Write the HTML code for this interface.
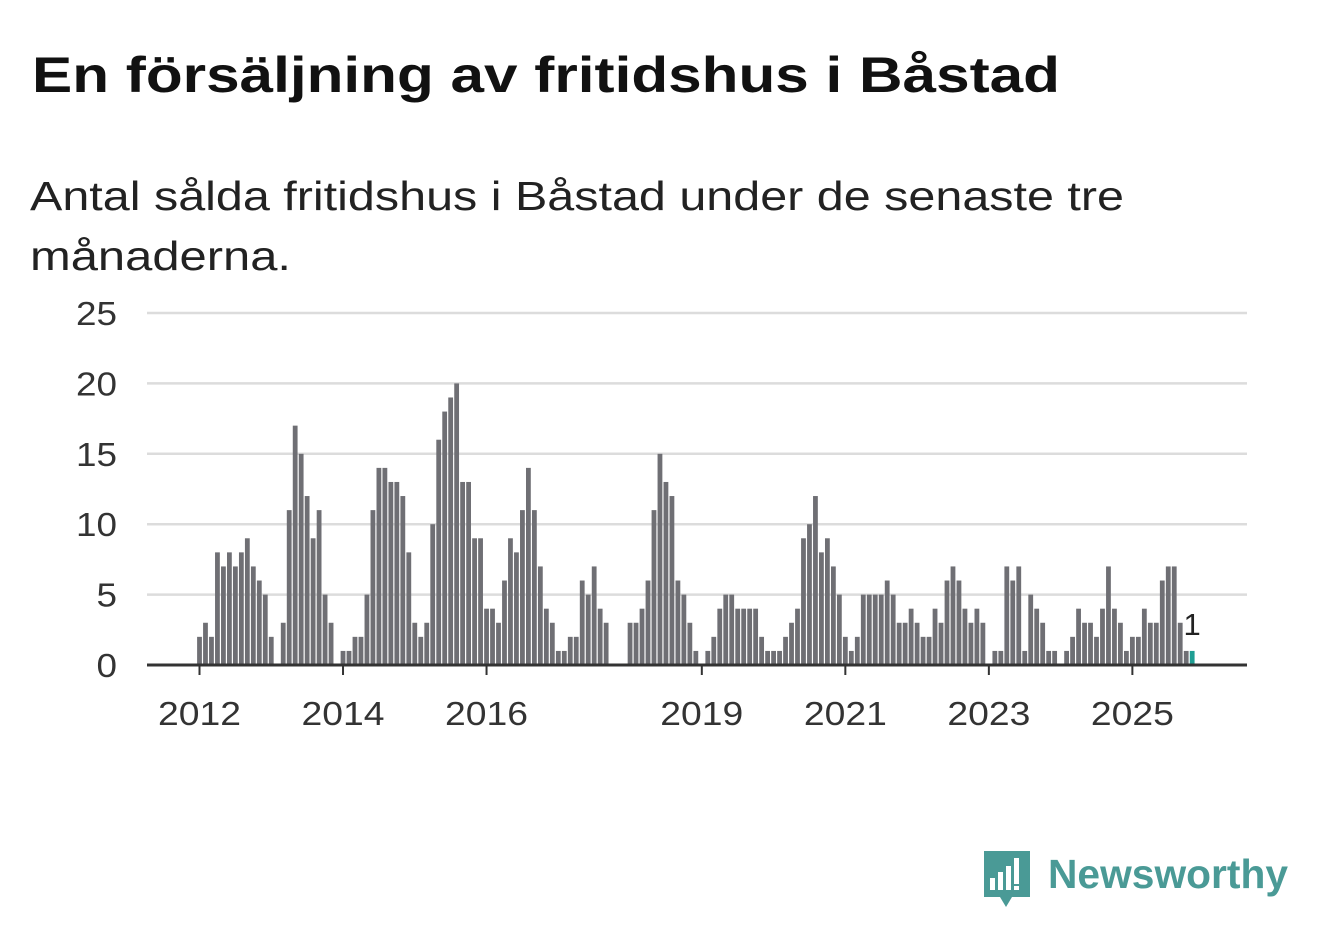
<!DOCTYPE html>
<html><head><meta charset="utf-8">
<style>
html,body{margin:0;padding:0;background:#fff;}
svg{display:block;font-family:"Liberation Sans","DejaVu Sans",sans-serif;}
</style></head>
<body>
<svg id="chart" width="1322" height="939" viewBox="0 0 1322 939">
  <text x="32" y="92" font-size="50" font-weight="bold" fill="#111" textLength="1028" lengthAdjust="spacingAndGlyphs">En försäljning av fritidshus i Båstad</text>
  <text x="30" y="210" font-size="41" fill="#222" textLength="1094" lengthAdjust="spacingAndGlyphs">Antal sålda fritidshus i Båstad under de senaste tre</text>
  <text x="30" y="270" font-size="41" fill="#222" textLength="261" lengthAdjust="spacingAndGlyphs">månaderna.</text>
  <g id="grid"></g>
  <g id="yaxis"></g>
  <g id="bars"></g>
  <g id="xaxis"></g>
  <g>
    <path d="M984 851 h46 v46 h-18 l-6 10 l-6 -10 h-16 z" fill="#4a9a96"/>
    <rect x="990" y="878" width="5" height="12" fill="#fff"/>
    <rect x="998" y="872" width="5" height="18" fill="#fff"/>
    <rect x="1006" y="866" width="5" height="24" fill="#fff"/>
    <rect x="1014" y="858" width="5" height="26" fill="#fff"/>
    <rect x="1014" y="886" width="5" height="4" fill="#fff"/>
    <text x="1048" y="888" font-size="41" font-weight="bold" fill="#4a9a96" textLength="240" lengthAdjust="spacingAndGlyphs">Newsworthy</text>
  </g>
</svg>
<script>
// Monthly sales, Jan 2012 onwards
const y2012 = [2,3,2,8,7,8,7,8,9,7,6,5];
const y2013 = [2,0,3,11,17,15,12,9,11,5,3,0];
const y2014 = [1,1,2,2,5,11,14,14,13,13,12,8];
const y2015 = [3,2,3,10,16,18,19,20,13,13,9,9];
const y2016 = [4,4,3,6,9,8,11,14,11,7,4,3];
const y2017 = [1,1,2,2,6,5,7,4,3,0,0,0];
const y2018 = [3,3,4,6,11,15,13,12,6,5,3,1];
const y2019 = [0,1,2,4,5,5,4,4,4,4,2,1];
const y2020 = [1,1,2,3,4,9,10,12,8,9,7,5];
const y2021 = [2,1,2,5,5,5,5,6,5,3,3,4];
const y2022 = [3,2,2,4,3,6,7,6,4,3,4,3];
const y2023 = [0,1,1,7,6,7,1,5,4,3,1,1];
const y2024 = [0,1,2,4,3,3,2,4,7,4,3,1];
const y2025 = [2,2,4,3,3,6,7,7,3,1,1];
const values = [].concat(y2012,y2013,y2014,y2015,y2016,y2017,y2018,y2019,y2020,y2021,y2022,y2023,y2024,y2025);
const yTicks = [0,5,10,15,20,25];
const xTickYears = [2012,2014,2016,2019,2021,2023,2025];
const startYear = 2012;

const NS = "http://www.w3.org/2000/svg";
const plotL = 147, plotR = 1247, y0 = 665, yTop = 313, yMax = 25;
const monthW = 5.98, firstX = 199.5;
function yScale(v){ return y0 - (v / yMax) * (y0 - yTop); }
function xScale(i){ return firstX + i * monthW; }
function mk(tag, attrs, parent){
  const e = document.createElementNS(NS, tag);
  for (const k in attrs) e.setAttribute(k, attrs[k]);
  parent.appendChild(e);
  return e;
}
const grid = document.getElementById('grid');
const yaxis = document.getElementById('yaxis');
yTicks.forEach(t => {
  if (t > 0) {
    const l = mk('line', {x1: plotL, x2: plotR, y1: yScale(t), y2: yScale(t), stroke: '#dcdcdc', 'stroke-width': 2.5}, grid);
    
    
  }
  const s = String(t);
  const tx = mk('text', {x: 117, y: yScale(t) + 12, 'font-size': 33, fill: '#333', 'text-anchor': 'end', textLength: s.length * 20.5, lengthAdjust: 'spacingAndGlyphs'}, yaxis);
  tx.textContent = t;
  
  
});
const bars = document.getElementById('bars');
const last = values.length - 1;
values.forEach((v, i) => {
  if (v <= 0) return;
  const r = mk('rect', {x: xScale(i) - 2.4, y: yScale(v), width: 4.8, height: y0 - yScale(v), fill: i === last ? '#1f9e93' : '#6f6f74'}, bars);
  
  
});
const lbl = mk('text', {x: xScale(last), y: yScale(values[last]) - 16, 'font-size': 31, fill: '#222', 'text-anchor': 'middle'}, bars);
lbl.textContent = values[last];


const xaxis = document.getElementById('xaxis');
const base = mk('line', {x1: plotL, x2: plotR, y1: y0, y2: y0, stroke: '#333', 'stroke-width': 3}, xaxis);


xTickYears.forEach(yr => {
  const x = xScale((yr - startYear) * 12);
  const tk = mk('line', {x1: x, x2: x, y1: y0, y2: y0 + 10, stroke: '#333', 'stroke-width': 2}, xaxis);
  
  
  const tx = mk('text', {x: x, y: 725, 'font-size': 33, fill: '#333', 'text-anchor': 'middle', textLength: 83, lengthAdjust: 'spacingAndGlyphs'}, xaxis);
  tx.textContent = yr;
  
  
});
</script>
</body></html>
